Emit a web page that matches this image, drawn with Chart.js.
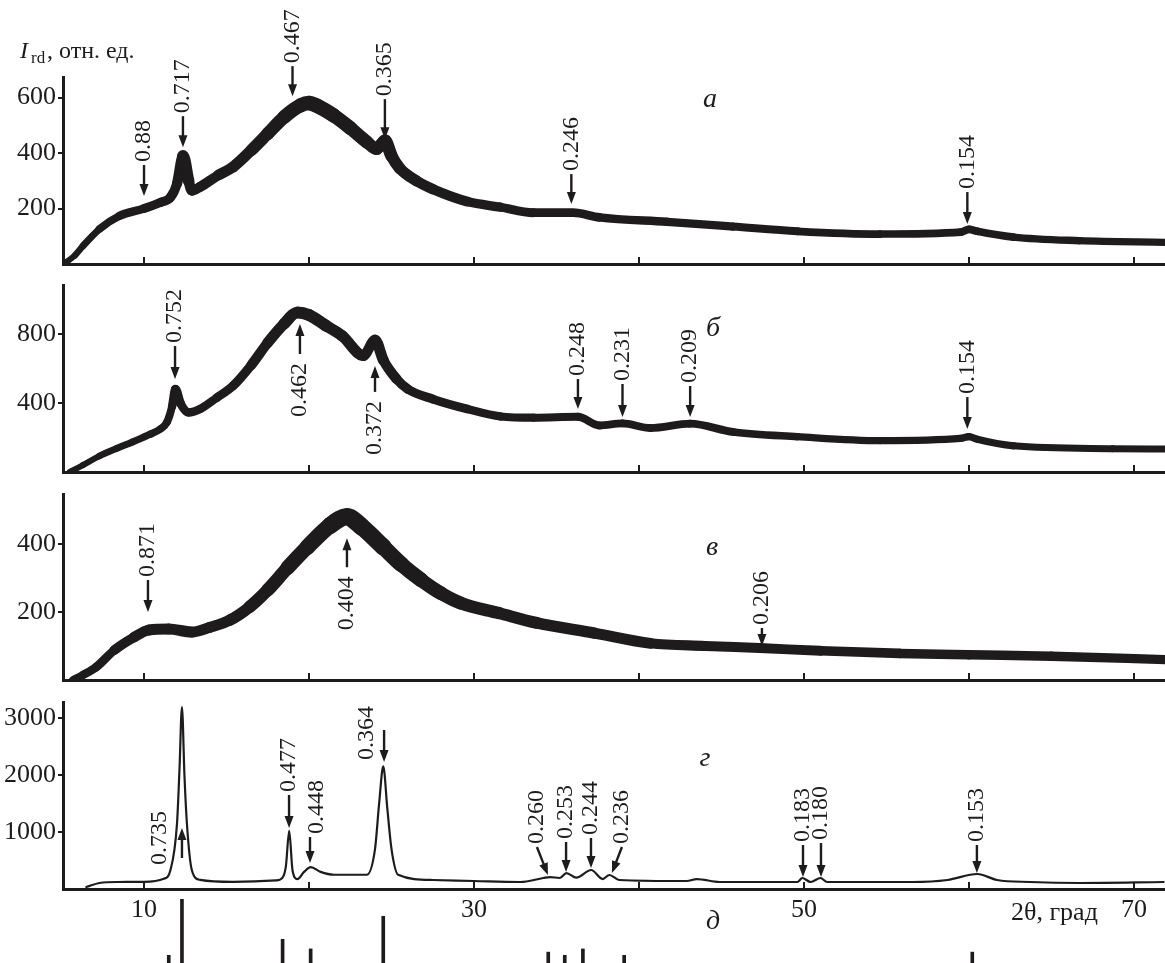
<!DOCTYPE html>
<html>
<head>
<meta charset="utf-8">
<script src="https://cdn.jsdelivr.net/npm/chart.js@4.4.0/dist/chart.umd.min.js"></script>
<style>
  html, body { margin: 0; padding: 0; background: #fff; }
  #wrap { position: relative; width: 1165px; height: 963px; overflow: hidden; }
  #wrap canvas { position: absolute; left: 0; top: 0; }
</style>
</head>
<body>
<div id="wrap">
  <canvas id="cA" width="1165" height="963"></canvas>
  <canvas id="cB" width="1165" height="963"></canvas>
  <canvas id="cC" width="1165" height="963"></canvas>
  <canvas id="cD" width="1165" height="963"></canvas>
  <canvas id="cE" width="1165" height="963"></canvas>
</div>
<script>
// --- données (2θ en degrés, intensité en unités relatives) ---
const thetaA = [5.1, 5.8, 6.3, 7.3, 8.5, 10.0, 11.0, 11.6, 12.0, 12.36, 12.7, 12.9, 13.4, 14.5, 15.4, 16.5, 17.5, 18.5, 19.5, 20.0, 20.5, 21.5, 22.5, 23.5, 24.1, 24.6, 25.0, 25.5, 26.5, 27.5, 29.6, 31.6, 33.6, 36.0, 37.6, 41.7, 45.7, 49.6, 54.6, 59.5, 60.0, 60.5, 62.7, 66.7, 71.9];
const intA = [0, 30, 65, 126, 173, 200, 222, 240, 290, 390, 300, 265, 278, 320, 350, 410, 470, 530, 572, 580, 570, 535, 490, 440, 415, 445, 390, 345, 300, 270, 225, 205, 185, 185, 168, 152, 135, 118, 108, 115, 125, 118, 97, 84, 78];

const thetaB = [5.5, 6.3, 7.3, 8.3, 9.3, 10.4, 11.0, 11.4, 11.7, 11.9, 12.2, 12.7, 13.4, 14.4, 15.4, 16.5, 17.5, 18.5, 19.3, 20.0, 21.0, 22.0, 23.3, 24.0, 24.5, 25.3, 26.0, 27.5, 29.6, 31.6, 33.6, 36.3, 37.6, 39.0, 40.7, 43.1, 45.7, 49.6, 54.6, 59.5, 60.0, 60.5, 62.7, 68.7, 71.9];
const intB = [0, 40, 93, 135, 174, 220, 250, 290, 380, 480, 400, 345, 365, 430, 500, 620, 750, 860, 925, 910, 850, 790, 675, 765, 650, 540, 480, 423, 365, 322, 315, 320, 270, 282, 255, 280, 232, 205, 182, 195, 205, 190, 152, 135, 133];

const thetaC = [5.7, 6.3, 7.1, 8.2, 9.4, 10.3, 11.5, 12.9, 14.0, 15.2, 16.4, 17.5, 18.7, 19.9, 21.3, 22.3, 23.2, 24.5, 25.6, 26.8, 28.0, 29.2, 31.5, 33.8, 37.3, 40.7, 44.0, 47.3, 51.0, 55.8, 60.0, 65.0, 71.9];
const intC = [0, 15, 38, 88, 126, 147, 150, 141, 155, 176, 215, 265, 330, 391, 455, 480, 450, 391, 340, 294, 255, 226, 197, 168, 138, 108, 100, 94, 86, 78, 74, 70, 60];

const thetaD = [6.5, 7.3, 8.4, 10.0, 11.2, 11.6, 12.0, 12.15, 12.3, 12.45, 12.6, 12.9, 13.4, 15.4, 18.0, 18.4, 18.6, 18.8, 19.0, 19.3, 19.7, 20.1, 20.7, 21.5, 23.5, 24.0, 24.25, 24.5, 24.75, 25.0, 25.4, 27.5, 30.0, 32.8, 34.2, 34.6, 35.2, 35.6, 36.2, 37.1, 37.8, 38.2, 38.8, 42.9, 43.5, 44.9, 49.6, 49.9, 50.4, 51.0, 51.4, 56.6, 58.7, 60.5, 61.7, 63.7, 66.7, 71.8];
const intD = [35, 105, 123, 125, 180, 330, 1150, 2100, 3190, 2000, 1150, 330, 160, 125, 150, 200, 400, 1020, 330, 175, 300, 385, 300, 250, 250, 700, 1500, 2150, 1400, 700, 250, 158, 140, 123, 193, 210, 193, 280, 199, 333, 175, 246, 158, 140, 175, 123, 123, 193, 123, 193, 123, 123, 158, 263, 158, 123, 105, 123];

// штрих-диаграмма (д)
const stickTheta = [11.5, 12.3, 18.4, 20.1, 24.5, 34.5, 35.5, 36.6, 39.1, 60.2];
const stickInt = [12, 100, 37, 22, 73, 17, 12, 22, 12, 17];

// graduations
const ticksA = [200, 400, 600];
const ticksB = [400, 800];
const ticksC = [200, 400];
const ticksD = [1000, 2000, 3000];
const xTickVals = [10, 20, 30, 40, 50, 60, 70];
const xLabelVals = [10, 30, 50, 70];

// annotations : libellé, position 2θ, intensité visée par la flèche
const notesA = [
  { t: '0.88', x: 10.0, y: 245, len: 31 },
  { t: '0.717', x: 12.36, y: 421, len: 31 },
  { t: '0.467', x: 19.0, y: 605, len: 30 },
  { t: '0.365', x: 24.6, y: 450, len: 40 },
  { t: '0.246', x: 35.9, y: 216, len: 30 },
  { t: '0.154', x: 59.9, y: 144, len: 32 }
];
const notesB = [
  { t: '0.752', x: 11.88, y: 539, len: 33 },
  { t: '0.462', x: 19.45, y: 858, len: 30, up: true },
  { t: '0.372', x: 24.0, y: 615, len: 26, up: true },
  { t: '0.248', x: 36.3, y: 365, len: 30 },
  { t: '0.231', x: 39.0, y: 319, len: 33 },
  { t: '0.209', x: 43.1, y: 319, len: 31 },
  { t: '0.154', x: 59.9, y: 249, len: 32 }
];
const notesC = [
  { t: '0.871', x: 10.24, y: 200, len: 32 },
  { t: '0.404', x: 22.3, y: 417, len: 29, up: true },
  { t: '0.206', x: 47.45, y: 100, len: 18 }
];
const notesD = [
  { t: '0.735', x: 12.3, y: 1070, len: 30, up: true, dx: -22, ty: 37 },
  { t: '0.477', x: 18.79, y: 1070, len: 33 },
  { t: '0.448', x: 20.06, y: 456, len: 26, dx: 7 },
  { t: '0.364', x: 24.55, y: 2228, len: 32, dx: -17, ty: -2 },
  { t: '0.260', x: 34.48, y: 246, len: 28, tx: -11 },
  { t: '0.253', x: 35.58, y: 298, len: 30 },
  { t: '0.244', x: 37.09, y: 368, len: 30 },
  { t: '0.236', x: 38.36, y: 281, len: 26, tx: 10 },
  { t: '0.183', x: 49.94, y: 210, len: 32 },
  { t: '0.180', x: 51.03, y: 210, len: 34 },
  { t: '0.153', x: 60.48, y: 281, len: 28 }
];

const X_MIN = 5.09, X_MAX = 71.88;
const PAGE_H = 963;
const INK = '#1e1b1c';
const SERIF = '"Liberation Serif", "Times New Roman", serif';

function toPoints(xs, ys) {
  return xs.map((x, i) => ({ x: x, y: ys[i] }));
}

// flèche de la queue (x1,y1) vers la pointe (x2,y2)
function drawArrow(ctx, x1, y1, x2, y2) {
  const ang = Math.atan2(y2 - y1, x2 - x1);
  const hl = 12, hw = 4.5;
  const bx = x2 - Math.cos(ang) * hl, by = y2 - Math.sin(ang) * hl;
  ctx.lineWidth = 2.4;
  ctx.beginPath();
  ctx.moveTo(x1, y1);
  ctx.lineTo(bx + Math.cos(ang) * 2, by + Math.sin(ang) * 2);
  ctx.stroke();
  ctx.beginPath();
  ctx.moveTo(x2, y2);
  ctx.lineTo(bx - Math.sin(ang) * hw, by + Math.cos(ang) * hw);
  ctx.lineTo(bx + Math.sin(ang) * hw, by - Math.cos(ang) * hw);
  ctx.closePath();
  ctx.fill();
}

// texte vertical, lu de bas en haut
function vText(ctx, s, cx, y, align) {
  ctx.save();
  ctx.translate(cx, y);
  ctx.rotate(-Math.PI / 2);
  ctx.textAlign = align;
  ctx.textBaseline = 'middle';
  ctx.fillText(s, 0, 0);
  ctx.restore();
}

function drawNote(ctx, n, px, py) {
  const tx = n.tx || 0;
  const cx = px + (n.dx !== undefined ? n.dx : tx);
  if (n.up) {
    const tailY = py + n.len;
    drawArrow(ctx, px, tailY, px, py);
    if (n.ty !== undefined) vText(ctx, n.t, cx, py + n.ty, 'left');
    else vText(ctx, n.t, cx, tailY + 9, 'right');
  } else {
    const tailY = py - n.len;
    drawArrow(ctx, px + tx, tailY, px, py);
    if (n.ty !== undefined) vText(ctx, n.t, cx, py + n.ty, 'left');
    else vText(ctx, n.t, cx, tailY - 3, 'left');
  }
}

function makeDecor(notes, extra) {
  return {
    id: 'decor',
    afterDraw(chart) {
      const ctx = chart.ctx, xs = chart.scales.x, ys = chart.scales.y, area = chart.chartArea;
      ctx.save();
      ctx.strokeStyle = INK;
      ctx.fillStyle = INK;
      // graduations vers l'intérieur
      ctx.lineWidth = 2;
      xTickVals.forEach(v => {
        const px = xs.getPixelForValue(v);
        ctx.beginPath();
        ctx.moveTo(px, area.bottom);
        ctx.lineTo(px, area.bottom - 7);
        ctx.stroke();
      });
      ctx.font = '24px ' + SERIF;
      notes.forEach(n => drawNote(ctx, n, xs.getPixelForValue(n.x), ys.getPixelForValue(n.y)));
      if (extra) extra(ctx, xs, area);
      ctx.restore();
    }
  };
}

function letter(ctx, s, x, y) {
  ctx.font = 'italic 28px ' + SERIF;
  ctx.textAlign = 'center';
  ctx.textBaseline = 'alphabetic';
  ctx.fillText(s, x, y);
}

function panel(id, pts, yMax, yTicks, top, bottom, wLo, wHi, notes, extra) {
  const el = document.getElementById(id);
  const ds = {
    data: pts,
    borderColor: INK,
    borderWidth: wHi,
    pointRadius: 0,
    cubicInterpolationMode: 'monotone',
    borderJoinStyle: 'round',
    borderCapStyle: 'round',
    fill: false
  };
  if (wLo !== wHi) {
    // la bande de bruit s'épaissit avec l'intensité
    ds.segment = {
      borderWidth: c => wLo + (wHi - wLo) * Math.min(1, Math.max(0, c.p0.parsed.y / yMax))
    };
  }
  return new Chart(el, {
    type: 'line',
    data: { datasets: [ds] },
    options: {
      responsive: false,
      animation: false,
      devicePixelRatio: 1,
      layout: { padding: { top: top, bottom: PAGE_H - bottom, left: 0, right: 0 } },
      plugins: { legend: { display: false }, tooltip: { enabled: false } },
      scales: {
        x: {
          type: 'linear', min: X_MIN, max: X_MAX,
          afterFit: s => { s.height = 0; },
          ticks: { display: false },
          grid: { display: true, drawOnChartArea: false, drawTicks: false },
          border: { display: true, color: INK, width: 3 }
        },
        y: {
          type: 'linear', min: 0, max: yMax,
          afterFit: s => { s.width = 63; },
          afterBuildTicks: s => { s.ticks = yTicks.map(v => ({ value: v })); },
          ticks: { color: INK, font: { family: SERIF, size: 26 }, padding: 2, callback: v => String(v) },
          grid: { drawOnChartArea: false, drawTicks: true, tickLength: 5, color: INK, lineWidth: 2 },
          border: { display: true, color: INK, width: 3 }
        }
      }
    },
    plugins: [makeDecor(notes, extra)]
  });
}

document.addEventListener('DOMContentLoaded', function() {
  // panneau a
  panel('cA', toPoints(thetaA, intA), 674, ticksA, 77, 264, 6, 16, notesA, function(ctx) {
    ctx.textAlign = 'left';
    ctx.textBaseline = 'alphabetic';
    ctx.font = 'italic 24px ' + SERIF;
    ctx.fillText('I', 20, 58);
    ctx.font = '17px ' + SERIF;
    ctx.fillText('rd', 31, 63);
    ctx.font = '24px ' + SERIF;
    ctx.fillText(', отн. ед.', 47, 58);
    letter(ctx, 'а', 710, 107);
  });

  // panneau б
  panel('cB', toPoints(thetaB, intB), 1084, ticksB, 285, 472, 6, 13, notesB, function(ctx) {
    letter(ctx, 'б', 713, 336);
  });

  // panneau в
  panel('cC', toPoints(thetaC, intC), 547, ticksC, 494, 680, 8, 19, notesC, function(ctx) {
    letter(ctx, 'в', 712, 555);
  });

  // panneau г
  panel('cD', toPoints(thetaD, intD), 3281, ticksD, 702, 889, 2.2, 2.2, notesD, function(ctx, xs) {
    ctx.font = '26px ' + SERIF;
    ctx.textAlign = 'center';
    ctx.textBaseline = 'alphabetic';
    xLabelVals.forEach(v => ctx.fillText(String(v), xs.getPixelForValue(v), 917));
    ctx.textAlign = 'left';
    ctx.fillText('2θ, град', 1011, 920);
    letter(ctx, 'г', 705, 766);
    letter(ctx, 'д', 713, 929);
  });

  // штрих-диаграмма
  new Chart(document.getElementById('cE'), {
    type: 'bar',
    data: {
      datasets: [{
        data: toPoints(stickTheta, stickInt),
        backgroundColor: INK,
        barThickness: 3,
        borderWidth: 0
      }]
    },
    options: {
      responsive: false,
      animation: false,
      devicePixelRatio: 1,
      layout: { padding: { top: 899, bottom: 0, left: 63, right: 0 } },
      plugins: { legend: { display: false }, tooltip: { enabled: false } },
      scales: {
        x: { type: 'linear', min: X_MIN, max: X_MAX, offset: false, display: false },
        y: { min: 0, max: 100, display: false }
      }
    }
  });
});
</script>
</body>
</html>
